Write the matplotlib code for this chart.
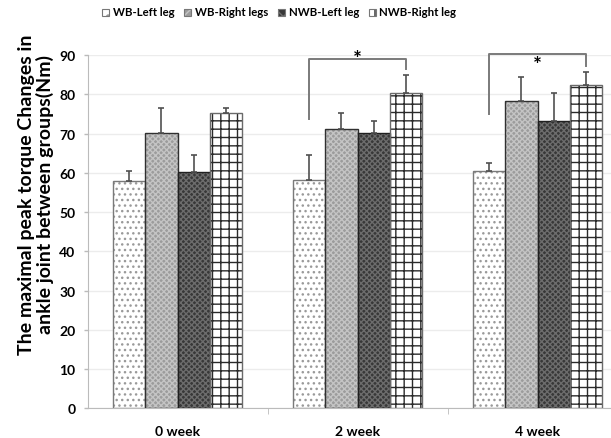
import matplotlib
matplotlib.use("Agg")
import matplotlib.pyplot as plt
from matplotlib.patches import Rectangle
import numpy as np

plt.rcParams['font.family'] = ['Lato', 'DejaVu Sans']
plt.rcParams['font.weight'] = 'bold'
plt.rcParams['hatch.linewidth'] = 1.0

categories = ['0 week', '2 week', '4 week']
series_names = ['WB-Left leg', 'WB-Right legs', 'NWB-Left leg', 'NWB-Right leg']
means = {
    'WB-Left leg':   [58.0, 58.1, 60.4],
    'WB-Right legs': [70.1, 71.1, 78.3],
    'NWB-Left leg':  [60.1, 70.1, 73.3],
    'NWB-Right leg': [75.1, 80.2, 82.4],
}
sds = {
    'WB-Left leg':   [2.5, 6.3, 2.0],
    'WB-Right legs': [6.5, 4.2, 6.2],
    'NWB-Left leg':  [4.3, 3.2, 7.0],
    'NWB-Right leg': [1.3, 4.6, 3.3],
}
# significance brackets: (category index, top level, left leg bottom, right leg bottom)
sig_brackets = [(1, 89.0, 73.8, 86.5), (2, 90.3, 75.0, 87.3)]

styles = {
    'WB-Left leg':   dict(face='white',   hatch='...',    hcolor='#9a9a9a', edge='#7a7a7a'),
    'WB-Right legs': dict(face='#9c9c9c', hatch='xxxxxx', hcolor='#c4c4c4', edge='#303030'),
    'NWB-Left leg':  dict(face='#383838', hatch='xxxxxx', hcolor='#6c6c6c', edge='#202020'),
    'NWB-Right leg': dict(face='white',   hatch='++',     hcolor='#2a2a2a', edge='#6a6a6a'),
}

W, H = 611, 439
fig = plt.figure(figsize=(W / 100, H / 100), dpi=100)
ax_left, ax_bottom_px, ax_top_px = 88, 409.3, 56
ax = fig.add_axes([ax_left / W, 1 - ax_bottom_px / H, 1 - ax_left / W,
                   (ax_bottom_px - ax_top_px) / H])

x = np.arange(len(categories))
w = 0.18
offsets = (np.arange(4) - 1.5) * w

for i, name in enumerate(series_names):
    st = styles[name]
    pos = x + offsets[i]
    ax.bar(pos, means[name], w, color=st['face'], edgecolor=st['hcolor'],
           hatch=st['hatch'], linewidth=0, zorder=2)
    ax.bar(pos, means[name], w, fill=False, edgecolor=st['edge'],
           linewidth=1.0, zorder=3)
    ax.errorbar(pos, means[name], yerr=[np.zeros(3), sds[name]], fmt='none',
                ecolor='#505050', elinewidth=1.2, capsize=2.5, capthick=1.2,
                zorder=4)

for ci, top, lb, rb in sig_brackets:
    xl = x[ci] + offsets[0]
    xr = x[ci] + offsets[3]
    ax.plot([xl, xl, xr, xr], [lb, top, top, rb], color='#7a7a7a', lw=1.4,
            clip_on=False, zorder=5)
    star_y = top - 1.6 if ci == 1 else top - 4.3
    ax.text(x[ci], star_y, '*', ha='center', va='baseline',
            fontsize=15, fontweight='bold', color='black', zorder=6)

# category centre at 177.5 px, 180 px per category
ax.set_xlim((ax_left - 177.5) / 180, (W - 177.5) / 180)
ax.set_ylim(0, 90)
ax.set_yticks(np.arange(0, 91, 10))
ax.yaxis.grid(True, color='#ececec', lw=1.0, zorder=0)
ax.set_axisbelow(True)
ax.set_xticks(x)
ax.set_xticklabels(categories, fontsize=10, fontweight='bold')
ax.tick_params(axis='x', length=0, pad=12)
ax.set_xticks([0.5, 1.5], minor=True)
ax.tick_params(axis='x', which='minor', length=4, color='#bbbbbb', direction='out')
ax.tick_params(axis='y', labelsize=10, length=3, color='#bbbbbb', width=1, pad=6)
for lab in ax.get_yticklabels():
    lab.set_fontweight('bold')
for s in ['top', 'right']:
    ax.spines[s].set_visible(False)
ax.spines['left'].set_color('#bbbbbb')
ax.spines['bottom'].set_color('#bbbbbb')

ax.set_ylabel('The maximal peak torque Changes in\nankle joint between groups(Nm)',
              fontsize=14, fontweight='bold', linespacing=1.05)
ax.yaxis.label.set_va('center')
ax.yaxis.set_label_coords((36 - ax_left) / (W - ax_left),
                          (ax_bottom_px - 195) / (ax_bottom_px - ax_top_px))

# legend row: swatch left edge, text start and text span (pixels)
legend_swatch_x = [102, 184, 278, 369]
legend_text_x = [113, 195, 289, 379]
legend_text_w = [61, 73, 70, 78]
legend_y = 13
sw = 7

renderer = fig.canvas.get_renderer()
legend_texts = []
for name, sx, tx in zip(series_names, legend_swatch_x, legend_text_x):
    st = styles[name]
    fig.patches.append(Rectangle((sx / W, 1 - (legend_y + sw / 2) / H), sw / W, sw / H,
                                 transform=fig.transFigure, facecolor=st['face'],
                                 edgecolor=st['hcolor'], hatch=st['hatch'][:1],
                                 linewidth=0))
    fig.patches.append(Rectangle((sx / W, 1 - (legend_y + sw / 2) / H), sw / W, sw / H,
                                 transform=fig.transFigure, fill=False,
                                 edgecolor='#777777', linewidth=0.8))
    legend_texts.append(fig.text(tx / W, 1 - legend_y / H, name, ha='left', va='center',
                                 fontsize=10, fontweight='bold', color='black'))

# size the legend font so the labels fill their slots
ratios = [tw / t.get_window_extent(renderer).width
          for t, tw in zip(legend_texts, legend_text_w)]
legend_fs = 10 * float(np.mean(ratios))
for t in legend_texts:
    t.set_fontsize(legend_fs)

fig.savefig('out.png', dpi=100)
